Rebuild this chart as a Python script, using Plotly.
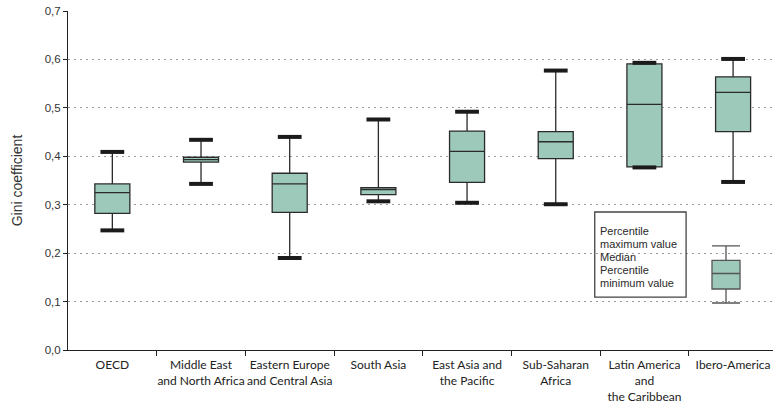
import plotly.graph_objects as go

# Regional Gini coefficient summaries (min, quartiles, median, max)
regions = [
    "OECD",
    "Middle East<br>and North Africa",
    "Eastern Europe<br>and Central Asia",
    "South Asia",
    "East Asia and<br>the Pacific",
    "Sub-Saharan<br>Africa",
    "Latin America<br>and<br>the Caribbean",
    "Ibero-America",
]
gini_min = [0.247, 0.343, 0.190, 0.307, 0.304, 0.301, 0.377, 0.347]
gini_p25 = [0.282, 0.388, 0.284, 0.321, 0.346, 0.395, 0.378, 0.451]
gini_median = [0.325, 0.393, 0.343, 0.331, 0.410, 0.430, 0.507, 0.532]
gini_p75 = [0.343, 0.398, 0.365, 0.335, 0.452, 0.451, 0.591, 0.564]
gini_max = [0.409, 0.434, 0.440, 0.476, 0.492, 0.577, 0.593, 0.601]

# Example box used by the key
key_min, key_p25, key_median, key_p75, key_max = 0.097, 0.126, 0.158, 0.185, 0.215
key_text = ["Percentile", "maximum value", "Median", "Percentile", "minimum value"]

y_ticks = [0.0, 0.1, 0.2, 0.3, 0.4, 0.5, 0.6, 0.7]

positions = list(range(len(regions)))
FILL = "#9dc9ba"
INK = "#222222"
SANS = "Liberation Sans"

fig = go.Figure()

fig.add_trace(go.Box(
    x=positions,
    q1=gini_p25, median=gini_median, q3=gini_p75,
    lowerfence=gini_min, upperfence=gini_max,
    width=0.395, whiskerwidth=0,
    fillcolor=FILL,
    line=dict(color="#2b2b2b", width=1.3),
    showlegend=False, hoverinfo="skip",
))

# Heavy whisker caps at the extremes
fig.add_trace(go.Scatter(
    x=positions + positions,
    y=gini_max + gini_min,
    mode="markers",
    marker=dict(symbol="line-ew", size=17, color="#1b1b1b",
                line=dict(width=4, color="#1b1b1b")),
    showlegend=False, hoverinfo="skip",
))

# Key box
fig.add_trace(go.Box(
    x=[6.92],
    q1=[key_p25], median=[key_median], q3=[key_p75],
    lowerfence=[key_min], upperfence=[key_max],
    width=0.316, whiskerwidth=1,
    fillcolor=FILL,
    line=dict(color="#555555", width=1.3),
    showlegend=False, hoverinfo="skip",
))

# Key frame and captions
fig.add_shape(type="rect", xref="x", yref="y",
              x0=5.44, x1=6.47, y0=0.109, y1=0.285,
              line=dict(color="#444444", width=1.3), fillcolor="rgba(0,0,0,0)")
for i, line in enumerate(key_text):
    fig.add_annotation(x=5.475, y=0.2463 - i * 0.0268, xref="x", yref="y",
                       text=line, showarrow=False,
                       xanchor="left", yanchor="middle", align="left",
                       font=dict(family=SANS, size=11, color="#2a2a2a"))

fig.update_layout(
    width=773, height=407,
    margin=dict(l=68, r=0, t=11, b=57),
    paper_bgcolor="white", plot_bgcolor="white",
    separators=", ",
    font=dict(family=SANS, color=INK),
)

fig.update_xaxes(
    range=[-0.5, 7.45],
    tickmode="array", tickvals=positions, ticktext=regions,
    ticks="", showgrid=False, zeroline=False,
    showline=True, linecolor=INK, linewidth=1,
    ticklabelstandoff=4,
    tickfont=dict(family="Lato", size=12, color=INK),
    minor=dict(tickmode="array", tickvals=[p + 0.5 for p in positions[:-1]],
               ticks="outside", ticklen=5, tickwidth=1, tickcolor=INK,
               showgrid=False),
)

fig.update_yaxes(
    range=[0, 0.7],
    tickmode="array", tickvals=y_ticks, tickformat=".1f",
    ticks="outside", ticklen=4, tickcolor=INK,
    showgrid=True, gridcolor="#9a9a9a", gridwidth=1, griddash="2px,4px",
    zeroline=False, showline=True, linecolor=INK, linewidth=1,
    tickfont=dict(family=SANS, size=11.5, color="#333333"),
    title=dict(text="Gini coefficient", standoff=18,
               font=dict(family=SANS, size=14, color="#333333")),
)

fig.write_html("out.html")
